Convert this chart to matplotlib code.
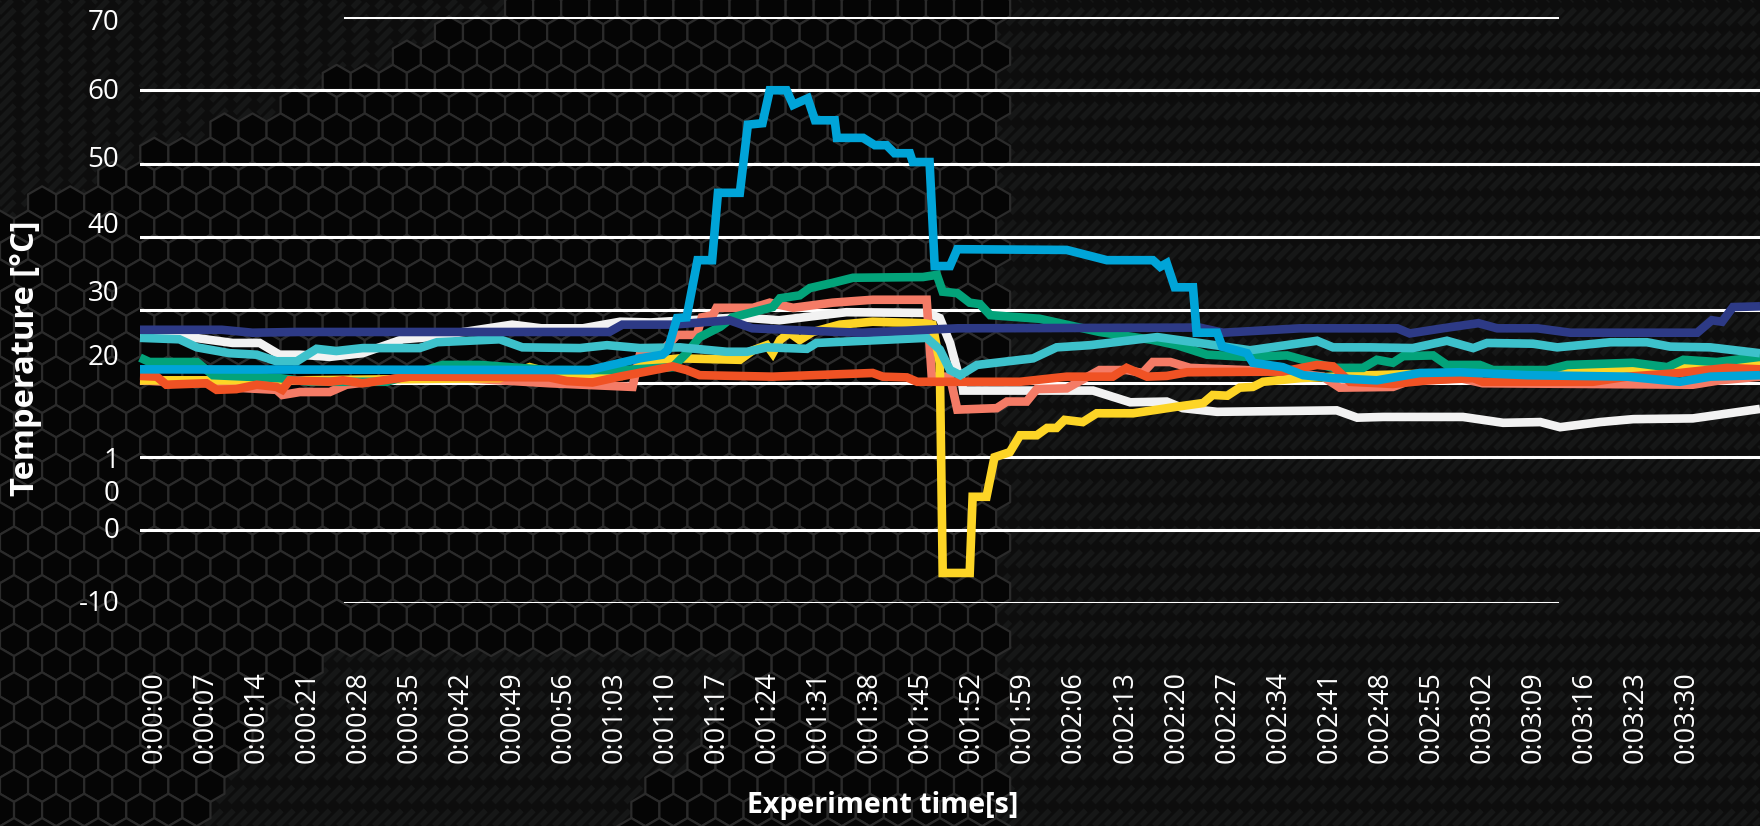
import numpy as np
import matplotlib
matplotlib.use("Agg")
import matplotlib.pyplot as plt
from matplotlib.collections import PolyCollection, LineCollection

# ---------------- data (time in s, temperature in °C) ----------------
t_white = [-2, 4.8, 10.7, 14.4, 17.1, 19.9, 24, 28.5, 34, 37.7, 49, 53, 58.7, 63.8, 68, 80.2, 85.6, 94.8,
           106, 107.6, 109, 110, 110.6, 110.8, 128.6, 133.7, 138.7, 140.9, 145.6, 162, 164.8, 168.3,
           179.3, 184.8, 189.9, 192.6, 198.1, 202.6, 210.8, 220]
v_white = [26.3, 26.3, 25.5, 25.5, 23.9, 23.9, 23.6, 24.1, 26.0, 26.3, 28.0, 27.5, 27.5, 28.4, 28.3, 29.0, 28.6, 29.7,
           29.6, 28.9, 25.5, 21.8, 20.4, 19.0, 19.0, 17.4, 17.5, 16.6, 16.1, 16.3, 15.3, 15.4,
           15.4, 14.6, 14.7, 14.0, 14.7, 15.1, 15.2, 16.5]

t_salmon = [-2, 1.6, 7.1, 8.9, 16.7, 17.5, 19.9, 24, 26.3, 34.5, 42.2, 54.1, 65.5, 66.5, 69.2, 71.6, 74.3, 75,
            76.5, 77, 82, 84.3, 87.5, 92.9, 98.4, 105.8, 106.5, 109, 110, 115.4, 116.8, 119.5, 120.9, 125,
            129.5, 133.2, 135.4, 136.8, 139.2, 141.9, 154.6, 160.1, 162.4, 169.7, 171.6, 178.9, 182,
            210.8, 214.5, 220]
v_salmon = [20.4, 20.2, 20.0, 19.5, 19.1, 18.4, 18.8, 18.8, 19.8, 20.8, 20.7, 20.0, 19.5, 23.9, 24.0, 26.6, 26.6, 29.0,
            29.3, 30.3, 30.3, 31.0, 30.3, 31.0, 31.4, 31.4, 20.9, 20.9, 16.4, 16.6, 17.5, 17.5, 19.2, 19.3,
            21.8, 21.8, 21.4, 22.9, 22.9, 22.1, 21.6, 20.9, 19.4, 19.5, 20.2, 20.7, 20.0,
            19.8, 20.4, 20.9]

t_yellow = [-2, 20, 47.3, 51.4, 54, 64, 68, 72, 80.2, 82, 83.9, 84.7, 85.7, 87, 88.4, 90.2, 93.9, 98.4,
            105.3, 106.6, 107.6, 108, 111.7, 112.1, 114, 115.1, 117.2, 118.6, 120.9, 122.3, 123.6, 124.7,
            127.2, 129.1, 134.1, 140.1, 143.7, 145, 147, 148.7, 150.5, 151.9, 157, 166.6, 192.6, 201.8,
            210, 220]
v_yellow = [20.4, 20.4, 20.7, 22.2, 21.5, 21.0, 23.0, 23.4, 23.2, 24.5, 25.2, 24.1, 25.9, 26.9, 25.9, 27.0, 28.0, 28.4,
            28.2, 28.0, 22.8, -5.9, -5.9, 4.5, 4.5, 9.9, 10.6, 12.9, 12.9, 13.9, 13.9, 15.0,
            14.7, 15.9, 15.9, 16.8, 17.3, 18.4, 18.3, 19.4, 19.5, 20.2, 20.7, 21.1, 21.8, 21.8,
            22.1, 22.9]

t_green = [-2, -0.7, 5.8, 8, 17.1, 21.2, 31.8, 39.5, 44.6, 54.1, 64.2, 71, 72.9, 74.7, 77.5, 79.2, 84.7, 85.7,
           88.4, 89.8, 92.9, 95.7, 105.3, 107.2, 108, 110, 111.7, 113.1, 114.5, 121.3, 129.5, 136.8, 140.1,
           144.2, 149.7, 155.2, 157.4, 161.5, 165.6, 167.5, 169.7, 171.1, 175.2, 177.1, 181.6, 183.4,
           190.8, 193.6, 202.6, 207.3, 209.5, 214.1, 220]
v_green = [23.5, 22.9, 22.9, 21.1, 20.7, 20.2, 20.2, 22.5, 22.5, 21.8, 21.8, 22.2, 24.1, 26.3, 27.7, 29.0, 30.4, 31.6,
           32.0, 33.0, 33.7, 34.4, 34.5, 34.8, 32.5, 32.3, 31.0, 30.8, 29.3, 28.8, 27.0, 25.9, 25.2,
           23.9, 23.6, 23.8, 23.2, 22.1, 22.1, 23.2, 22.8, 23.7, 23.8, 22.5, 22.5, 21.8,
           21.8, 22.5, 22.8, 22.2, 23.2, 22.9, 23.6]

t_orange = [-2, 0.3, 1.6, 7.1, 8.5, 11.2, 14, 16.7, 17.5, 18.5, 24, 25.8, 28.5, 35, 54.1, 56.5, 60, 63.7, 67.4,
            71, 72.9, 74.7, 84.7, 98.4, 99.8, 103.1, 104.5, 118.6, 125, 131.3, 133.2, 136, 138.7, 141.5,
            154.6, 159.3, 161.5, 163.8, 169.7, 174.4, 180.7, 182, 197.1, 201.8, 209, 215.5, 220]
v_orange = [21.0, 20.9, 19.8, 20.0, 19.1, 19.2, 19.8, 19.5, 19.1, 20.4, 20.2, 20.4, 20.0, 20.9, 20.8, 20.3, 20.1, 20.9, 21.6,
            22.3, 21.8, 21.1, 20.9, 21.4, 20.9, 20.8, 20.2, 20.2, 20.9, 20.9, 22.1, 20.9, 21.0, 21.5,
            21.6, 22.5, 22.3, 20.2, 19.9, 20.4, 20.7, 20.2, 20.2, 20.9, 21.4, 22.1, 21.9]

t_cyan = [-2, 3.4, 5.8, 10.3, 14, 16.7, 19.5, 22.2, 24.9, 28.5, 36.3, 38.7, 47.3, 50.4, 58.3, 62, 66.5, 72,
          78.4, 81.2, 83.9, 89.4, 90.7, 105.8, 107.6, 109, 110.4, 112.7, 120.4, 123.6, 128.2, 137.4, 143.2,
          150.1, 159.3, 161.5, 166.6, 172.4, 177.1, 180.7, 182.6, 188.9, 192.2, 199.5, 204.5, 207.7,
          213.2, 220]
v_cyan = [26.2, 26.0, 24.9, 24.1, 23.9, 23.0, 23.0, 24.7, 24.4, 24.8, 24.8, 25.6, 26.0, 24.9, 24.8, 25.2, 24.8, 24.9,
          24.3, 24.3, 24.9, 24.7, 25.5, 26.2, 24.6, 21.8, 21.1, 22.5, 23.4, 24.9, 25.2, 26.3, 25.5,
          24.5, 25.8, 24.9, 24.9, 24.8, 25.8, 24.8, 25.5, 25.4, 24.9, 25.6, 25.6, 25.0,
          24.9, 24.1]

t_navy = [-2, 9.2, 13.4, 19.5, 62.3, 64.1, 71, 78.8, 81.9, 93.8, 97, 110, 143.2, 146.4, 157, 170.3, 172,
          176.5, 181.4, 184, 189.5, 194, 211.4, 213.4, 214.8, 216.3, 220]
v_navy = [27.3, 27.3, 26.9, 27.0, 27.0, 28.0, 28.0, 28.6, 27.5, 27.0, 26.9, 27.5, 27.6, 26.9, 27.5, 27.5, 26.8,
          27.5, 28.2, 27.5, 27.5, 26.9, 26.9, 28.6, 28.4, 30.4, 30.5]

t_blue = [-2, 59.6, 66.5, 69.6, 70.3, 71.6, 72.9, 74.4, 76.4, 77.2, 80.2, 81.3, 83.3, 84.3, 86.6, 87.5, 89.5,
          90.5, 93.2, 93.5, 97.1, 98.7, 100.3, 101.4, 103.5, 103.9, 106.2, 106.9, 109, 110, 125, 130.5,
          136.8, 137.8, 138.7, 139.8, 142.3, 142.8, 145.6, 146.3, 149.7, 150.5, 154.6, 157.4, 161.5,
          167.5, 173.4, 178.9, 188.1, 201.8, 209, 213.2, 220]
v_blue = [21.9, 21.8, 23.4, 23.9, 24.5, 28.9, 29.0, 36.8, 36.8, 46.0, 46.0, 55.3, 55.5, 60.0, 60.0, 58.0, 58.9,
          55.9, 55.9, 53.5, 53.5, 52.5, 52.5, 51.4, 51.4, 50.2, 50.2, 36.0, 36.0, 38.3, 38.2, 36.8,
          36.8, 35.9, 36.4, 33.1, 33.1, 26.9, 26.9, 25.0, 24.1, 22.8, 22.2, 21.1, 20.7,
          20.4, 21.4, 21.5, 21.1, 20.9, 20.2, 20.9, 21.1]

tick_seconds = list(range(0, 211, 7))
tick_labels = ["0:%02d:%02d" % (s // 60, s % 60) for s in tick_seconds]

ytick_labels = ["70", "60", "50", "40", "30", "20", "1", "0", "0", "-10"]
grid_values = [70, 60, 50, 40, 30, 20, 10, 0, -10]

# ---------------- figure ----------------
W, H = 1760, 826
fig = plt.figure(figsize=(W / 100, H / 100), dpi=100)
fig.patch.set_facecolor("#0c0c0c")

# ----- decorative background (carbon + hexagon mesh) -----
bg = fig.add_axes([0, 0, 1, 1], zorder=0)
bg.set_xlim(0, W)
bg.set_ylim(H, 0)
bg.axis("off")
bg.add_patch(plt.Rectangle((0, 0), W, H, color="#0d0d0d", zorder=0))

# carbon weave: soft diagonal strokes
segs = []
for c in np.arange(-H, W + H, 12):
    segs.append([(c, H), (c + H, 0)])
bg.add_collection(LineCollection(segs, colors="#161717", linewidths=4.0,
                                 linestyles=(0, (4, 2)), zorder=1))

# hexagon mesh
r = 16.2
dx = np.sqrt(3) * r
dy = 1.5 * r
ang = np.deg2rad(np.arange(6) * 60 + 30)
hexes = []
row = 0
y = -r
while y < H + r:
    x0 = -dx + (dx / 2 if row % 2 else 0)
    x = x0
    while x < W:
        carbon = (x > 1010) or (x + 2.4 * y < 520) or (y > 640 and 330 - 0.7 * (y - 640) < x < 760 - 0.7 * (y - 640))
        if not carbon:
            hexes.append(np.column_stack([x + r * np.cos(ang), y + r * np.sin(ang)]))
        x += dx
    y += dy
    row += 1
bg.add_collection(PolyCollection(hexes, facecolors="#050505", edgecolors="#2b2b2b",
                                 linewidths=1.6, zorder=2))

# ----- main chart axes -----
left_px, right_px, top_px, bot_px = 140, 1760, 17, 603
ax = fig.add_axes([left_px / W, 1 - bot_px / H, (right_px - left_px) / W, (bot_px - top_px) / H], zorder=2)
ax.set_facecolor("none")
ax.set_xlim(-2, 220)
ax.set_ylim(-10, 70)
for s in ax.spines.values():
    s.set_visible(False)

short0 = (345 - left_px) / (right_px - left_px)
short1 = (1557 - left_px) / (right_px - left_px)
for g in grid_values:
    if g in (70, -10):
        ax.axhline(g, short0, short1, color="white", lw=2.2, zorder=1)
    else:
        ax.axhline(g, 0, 1, color="white", lw=2.2, zorder=1)

series = [
    (t_white, v_white, "#f2f2f2"),
    (t_salmon, v_salmon, "#f47b66"),
    (t_yellow, v_yellow, "#fdd526"),
    (t_green, v_green, "#03a37a"),
    (t_orange, v_orange, "#f05224"),
    (t_cyan, v_cyan, "#3dc1cb"),
    (t_navy, v_navy, "#2d3a86"),
    (t_blue, v_blue, "#00a4d8"),
]
for i, (tt, vv, col) in enumerate(series):
    ax.plot(tt, vv, color=col, lw=6.2, solid_joinstyle="miter", solid_capstyle="butt",
            zorder=3 + i, clip_on=False)

# y tick labels (positions as in the original artwork)
ytick_pos = [69.6, 60.3, 50.9, 41.9, 32.7, 23.9, 9.8, 5.4, 0.3, -9.6]
ax.set_yticks(ytick_pos, ytick_labels)
ax.tick_params(axis="y", length=0, pad=15, labelsize=20, labelcolor="white")
for lab in ax.get_yticklabels():
    lab.set_family(["Open Sans", "DejaVu Sans"])

ax.set_xticks(tick_seconds, tick_labels, rotation=90)
ax.tick_params(axis="x", length=0, pad=49, labelsize=19.5, labelcolor="white")
for lab in ax.get_xticklabels():
    lab.set_family(["Open Sans", "DejaVu Sans"])

fig.text(25 / W, 1 - 358 / H, "Temperature [°C]", rotation=90, ha="center", va="center",
         color="white", fontsize=23.5, fontweight="bold", family=["Open Sans", "DejaVu Sans"])
fig.text(883 / W, 1 - 806 / H, "Experiment time[s]", ha="center", va="center",
         color="white", fontsize=20.5, fontweight="bold", family=["Open Sans", "DejaVu Sans"])

fig.savefig("out.png", dpi=100, facecolor=fig.get_facecolor())
